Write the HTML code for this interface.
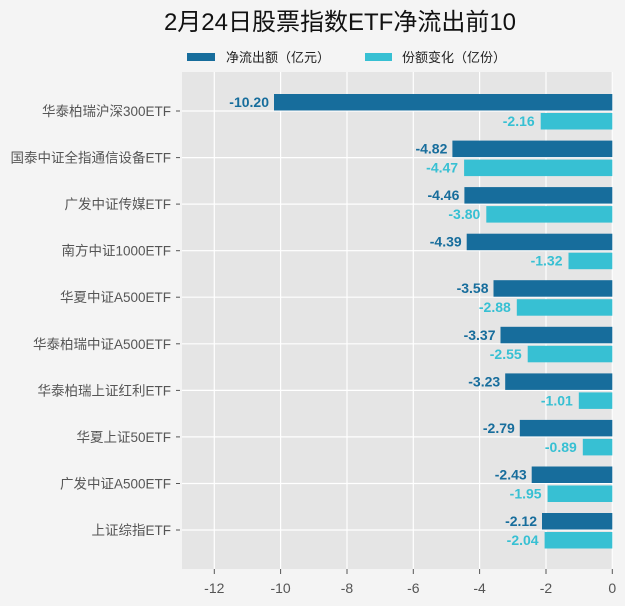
<!DOCTYPE html>
<html><head><meta charset="utf-8"><style>
html,body{margin:0;padding:0;background:#f4f4f4;}
svg{display:block;font-family:"Liberation Sans","Noto Sans CJK SC",sans-serif;}
</style></head><body>
<svg width="625" height="606" viewBox="0 0 625 606" xmlns="http://www.w3.org/2000/svg">
<rect width="625" height="606" fill="#f4f4f4"/>
<text x="340" y="30" font-size="24" text-anchor="middle" fill="#111">2月24日股票指数ETF净流出前10</text>
<rect x="187" y="53" width="28" height="8" fill="#176d9c"/>
<text x="226" y="62" font-size="13" fill="#222">净流出额（亿元）</text>
<rect x="365" y="53" width="27" height="8" fill="#37c0d3"/>
<text x="402" y="62" font-size="13" fill="#222">份额变化（亿份）</text>
<rect x="182" y="72" width="431" height="497" fill="#e5e5e5"/>
<g stroke="#ffffff" stroke-width="1.2">
<line x1="214.3" y1="72" x2="214.3" y2="569"/>
<line x1="280.6" y1="72" x2="280.6" y2="569"/>
<line x1="347" y1="72" x2="347" y2="569"/>
<line x1="413.3" y1="72" x2="413.3" y2="569"/>
<line x1="479.6" y1="72" x2="479.6" y2="569"/>
<line x1="546" y1="72" x2="546" y2="569"/>
<line x1="612.3" y1="72" x2="612.3" y2="569"/>
<line x1="182" y1="111" x2="613" y2="111"/>
<line x1="182" y1="157.6" x2="613" y2="157.6"/>
<line x1="182" y1="204.1" x2="613" y2="204.1"/>
<line x1="182" y1="250.7" x2="613" y2="250.7"/>
<line x1="182" y1="297.2" x2="613" y2="297.2"/>
<line x1="182" y1="343.8" x2="613" y2="343.8"/>
<line x1="182" y1="390.4" x2="613" y2="390.4"/>
<line x1="182" y1="436.9" x2="613" y2="436.9"/>
<line x1="182" y1="483.5" x2="613" y2="483.5"/>
<line x1="182" y1="530" x2="613" y2="530"/>
</g>
<g stroke="#555" stroke-width="1">
<line x1="214.3" y1="569" x2="214.3" y2="574"/><line x1="280.6" y1="569" x2="280.6" y2="574"/><line x1="347" y1="569" x2="347" y2="574"/><line x1="413.3" y1="569" x2="413.3" y2="574"/><line x1="479.6" y1="569" x2="479.6" y2="574"/><line x1="546" y1="569" x2="546" y2="574"/><line x1="612.3" y1="569" x2="612.3" y2="574"/>
<line x1="176" y1="111" x2="180" y2="111"/><line x1="176" y1="157.6" x2="180" y2="157.6"/><line x1="176" y1="204.1" x2="180" y2="204.1"/><line x1="176" y1="250.7" x2="180" y2="250.7"/><line x1="176" y1="297.2" x2="180" y2="297.2"/><line x1="176" y1="343.8" x2="180" y2="343.8"/><line x1="176" y1="390.4" x2="180" y2="390.4"/><line x1="176" y1="436.9" x2="180" y2="436.9"/><line x1="176" y1="483.5" x2="180" y2="483.5"/><line x1="176" y1="530" x2="180" y2="530"/>
</g>
<g font-size="14" fill="#555" text-anchor="middle">
<text x="214.3" y="593">-12</text><text x="280.6" y="593">-10</text><text x="347" y="593">-8</text><text x="413.3" y="593">-6</text><text x="479.6" y="593">-4</text><text x="546" y="593">-2</text><text x="612.3" y="593">0</text>
</g>
<g font-size="13.5" fill="#555" text-anchor="end">
<text x="171" y="116">华泰柏瑞沪深300ETF</text>
<text x="171" y="162.6">国泰中证全指通信设备ETF</text>
<text x="171" y="209.1">广发中证传媒ETF</text>
<text x="171" y="255.7">南方中证1000ETF</text>
<text x="171" y="302.2">华夏中证A500ETF</text>
<text x="171" y="348.8">华泰柏瑞中证A500ETF</text>
<text x="171" y="395.4">华泰柏瑞上证红利ETF</text>
<text x="171" y="441.9">华夏上证50ETF</text>
<text x="171" y="488.5">广发中证A500ETF</text>
<text x="171" y="535">上证综指ETF</text>
</g>
<g fill="#176d9c">
<rect x="274" y="94" width="338.3" height="16.5"/>
<rect x="452.4" y="140.6" width="159.9" height="16.5"/>
<rect x="464.4" y="187.1" width="147.9" height="16.5"/>
<rect x="466.7" y="233.7" width="145.6" height="16.5"/>
<rect x="493.5" y="280.2" width="118.8" height="16.5"/>
<rect x="500.5" y="326.8" width="111.8" height="16.5"/>
<rect x="505.2" y="373.4" width="107.1" height="16.5"/>
<rect x="519.8" y="419.9" width="92.5" height="16.5"/>
<rect x="531.7" y="466.5" width="80.6" height="16.5"/>
<rect x="542" y="513" width="70.3" height="16.5"/>
</g>
<g fill="#37c0d3">
<rect x="540.7" y="113" width="71.6" height="16.5"/>
<rect x="464.1" y="159.6" width="148.2" height="16.5"/>
<rect x="486.3" y="206.1" width="126" height="16.5"/>
<rect x="568.5" y="252.7" width="43.8" height="16.5"/>
<rect x="516.8" y="299.2" width="95.5" height="16.5"/>
<rect x="527.7" y="345.8" width="84.6" height="16.5"/>
<rect x="578.8" y="392.4" width="33.5" height="16.5"/>
<rect x="582.8" y="438.9" width="29.5" height="16.5"/>
<rect x="547.6" y="485.5" width="64.7" height="16.5"/>
<rect x="544.6" y="532" width="67.7" height="16.5"/>
</g>
<g font-size="14" font-weight="bold" fill="#176d9c" text-anchor="end">
<text x="269" y="107">-10.20</text>
<text x="447.4" y="153.6">-4.82</text>
<text x="459.4" y="200.1">-4.46</text>
<text x="461.7" y="246.7">-4.39</text>
<text x="488.5" y="293.2">-3.58</text>
<text x="495.5" y="339.8">-3.37</text>
<text x="500.2" y="386.4">-3.23</text>
<text x="514.8" y="432.9">-2.79</text>
<text x="526.7" y="479.5">-2.43</text>
<text x="537" y="526">-2.12</text>
</g>
<g font-size="14" font-weight="bold" fill="#37c0d3" text-anchor="end">
<text x="534.7" y="126">-2.16</text>
<text x="458.1" y="172.6">-4.47</text>
<text x="480.3" y="219.1">-3.80</text>
<text x="562.5" y="265.7">-1.32</text>
<text x="510.8" y="312.2">-2.88</text>
<text x="521.7" y="358.8">-2.55</text>
<text x="572.8" y="405.4">-1.01</text>
<text x="576.8" y="451.9">-0.89</text>
<text x="541.6" y="498.5">-1.95</text>
<text x="538.6" y="545">-2.04</text>
</g>
</svg>
</body></html>
